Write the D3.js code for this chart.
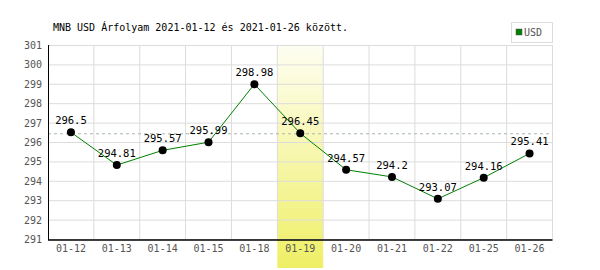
<!DOCTYPE html>
<html>
<head>
<meta charset="utf-8">
<script src="https://cdn.jsdelivr.net/npm/d3@7"></script>
<style>
  body { margin: 0; background: #fff; }
  svg text { font-family: "DejaVu Sans Mono", monospace; }
</style>
</head>
<body>
<div id="chart"></div>
<script>
const dates = ["01-12", "01-13", "01-14", "01-15", "01-18", "01-19", "01-20", "01-21", "01-22", "01-25", "01-26"];
const rates = [296.5, 294.81, 295.57, 295.99, 298.98, 296.45, 294.57, 294.2, 293.07, 294.16, 295.41];
const yTicks = [291, 292, 293, 294, 295, 296, 297, 298, 299, 300, 301];
const highlightDate = "01-19";
const refValue = 296.45;
const seriesName = "USD";
const title = "MNB USD Árfolyam 2021-01-12 és 2021-01-26 között.";

function drawChart(element) {
  const width = 600, height = 270;
  const left = 48, right = 552.5, top = 45, bottom = 239;

  d3.select(element).select("svg").remove();
  const svg = d3.select(element).append("svg")
    .attr("width", width)
    .attr("height", height);

  const x = d3.scaleBand().domain(dates).range([left, right]);
  const y = d3.scaleLinear().domain([291, 301]).range([bottom, top]);

  // highlight gradient
  const grad = svg.append("defs").append("linearGradient")
    .attr("id", "hl").attr("x1", 0).attr("y1", 0).attr("x2", 0).attr("y2", 1);
  grad.append("stop").attr("offset", "0%").attr("stop-color", "#fefef2");
  grad.append("stop").attr("offset", "100%").attr("stop-color", "#efef66");

  svg.append("rect")
    .attr("x", x(highlightDate))
    .attr("y", top)
    .attr("width", x.bandwidth())
    .attr("height", 268 - top)
    .attr("fill", "url(#hl)");

  // grid
  svg.append("g").selectAll("line").data(yTicks).enter().append("line")
    .attr("x1", left).attr("x2", right)
    .attr("y1", d => y(d) + 0.5).attr("y2", d => y(d) + 0.5)
    .attr("stroke", "#dcdcdc");
  svg.append("g").selectAll("line").data(dates.slice(1).concat(["end"])).enter().append("line")
    .attr("x1", d => (d === "end" ? right : x(d)))
    .attr("x2", d => (d === "end" ? right : x(d)))
    .attr("y1", top).attr("y2", bottom)
    .attr("stroke", "#dcdcdc");

  // reference dashed line
  svg.append("line")
    .attr("x1", left).attr("x2", right)
    .attr("y1", y(refValue) + 0.5).attr("y2", y(refValue) + 0.5)
    .attr("stroke", "#aab8a8")
    .attr("stroke-dasharray", "3,3");

  // axes
  svg.append("line").attr("x1", left + 0.5).attr("x2", left + 0.5)
    .attr("y1", top).attr("y2", bottom + 1).attr("stroke", "#000");
  svg.append("line").attr("x1", left).attr("x2", right)
    .attr("y1", bottom + 1).attr("y2", bottom + 1).attr("stroke", "#000").attr("stroke-width", 1.5);

  svg.append("g").selectAll("text").data(yTicks).enter().append("text")
    .attr("x", left - 6)
    .attr("y", d => y(d) + 4)
    .attr("text-anchor", "end")
    .style("font-size", "10px")
    .style("fill", "#555")
    .text(d => d);

  svg.append("g").selectAll("text").data(dates).enter().append("text")
    .attr("x", d => x(d) + x.bandwidth() / 2)
    .attr("y", 252)
    .attr("text-anchor", "middle")
    .style("font-size", "10px")
    .style("fill", "#555")
    .text(d => d);

  // line + points
  const line = d3.line()
    .x((d, i) => x(dates[i]) + x.bandwidth() / 2)
    .y(d => y(d));
  svg.append("path").datum(rates)
    .attr("d", line)
    .attr("fill", "none")
    .attr("stroke", "#008000")
    .attr("stroke-width", 1);

  svg.append("g").selectAll("circle").data(rates).enter().append("circle")
    .attr("cx", (d, i) => x(dates[i]) + x.bandwidth() / 2)
    .attr("cy", d => y(d))
    .attr("r", 4)
    .attr("fill", "#000");

  svg.append("g").selectAll("text").data(rates).enter().append("text")
    .attr("x", (d, i) => x(dates[i]) + x.bandwidth() / 2)
    .attr("y", d => y(d) - 8)
    .attr("text-anchor", "middle")
    .style("font-size", "10.5px")
    .style("fill", "#000")
    .text(d => d);

  // title
  svg.append("text")
    .attr("x", 53).attr("y", 31)
    .style("font-size", "10px")
    .style("fill", "#000")
    .text(title);

  // legend
  svg.append("rect")
    .attr("x", 511.5).attr("y", 22.5).attr("width", 41).attr("height", 20)
    .attr("fill", "#fff").attr("stroke", "#dcdcdc");
  svg.append("rect")
    .attr("x", 516).attr("y", 29).attr("width", 6).attr("height", 6)
    .attr("fill", "#008000").attr("stroke", "#555").attr("stroke-width", 0.5);
  svg.append("text")
    .attr("x", 524).attr("y", 36)
    .style("font-size", "10px")
    .style("fill", "#555")
    .text(seriesName);
}

drawChart(document.getElementById("chart"));
</script>
</body>
</html>
